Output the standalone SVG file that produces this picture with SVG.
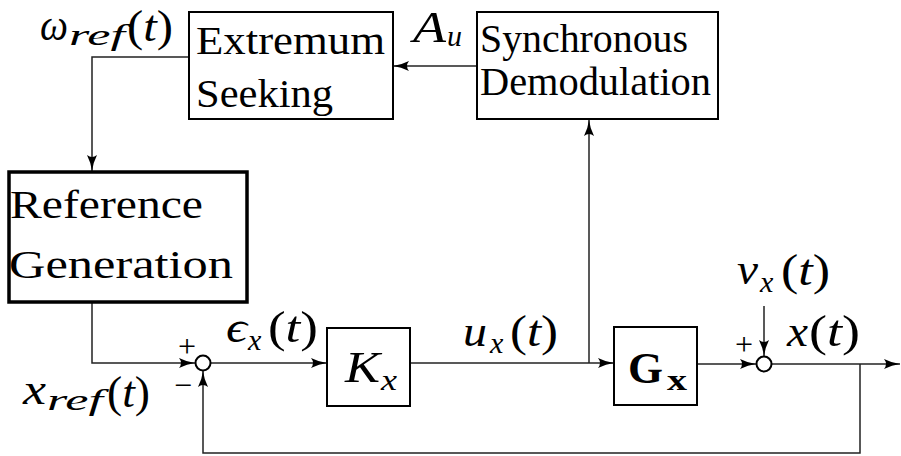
<svg xmlns="http://www.w3.org/2000/svg" width="901" height="456" viewBox="0 0 901 456">
<style>
.box{fill:#fff;stroke:#000;stroke-width:2}
.thick{fill:#fff;stroke:#000;stroke-width:3.5}
.sum{fill:#fff;stroke:#000;stroke-width:2}
.wire{fill:none;stroke:#222;stroke-width:1.5}
.arr{marker-end:url(#ah)}
text{fill:#000;font-family:"Liberation Serif","Times New Roman","DejaVu Serif",serif}
.lbl{font-size:40px}
.mi{font-size:44px;font-style:italic}
.mu{font-size:44px}
.it{font-style:italic}
.sb{font-size:30px;font-style:italic}
.bf{font-size:44px;font-weight:bold}
.bsb{font-size:30px;font-weight:bold}
.sg{font-size:32px}
</style>
<defs>
<marker id="ah" viewBox="0 0 16 11" refX="16" refY="5.5" markerWidth="16" markerHeight="11" markerUnits="userSpaceOnUse" orient="auto">
<path d="M0,0.5 Q8,4.5 16,5.5 Q8,6.5 0,10.5 Q4,5.5 0,0.5 z" fill="#000"/>
</marker>
</defs>
<rect width="901" height="456" fill="#fff"/>
<g id="connectors">
<path class="wire arr" d="M477,66 L393,66"/>
<path class="wire arr" d="M189,57 L92,57 L92,171"/>
<path class="wire arr" d="M92,303 L92,363 L195,363"/>
<path class="wire arr" d="M211,363 L327,363"/>
<path class="wire arr" d="M410,363 L614,363"/>
<path class="wire arr" d="M589,363 L589,120"/>
<path class="wire arr" d="M697,364 L756,364"/>
<path class="wire arr" d="M764,306 L764,356"/>
<path class="wire arr" d="M772,364 L900,364"/>
<path class="wire arr" d="M860,364 L860,453 L203,453 L203,371"/>
</g>
<g id="extremum-seeking">
<rect class="box" x="189" y="12" width="204" height="107"/>
<text class="lbl" x="196" y="54" textLength="189" lengthAdjust="spacingAndGlyphs">Extremum</text>
<text class="lbl" x="196" y="107" textLength="137" lengthAdjust="spacingAndGlyphs">Seeking</text>
</g>
<g id="synchronous-demodulation">
<rect class="box" x="477" y="12" width="241" height="107"/>
<text class="lbl" x="480" y="52" textLength="208" lengthAdjust="spacingAndGlyphs">Synchronous</text>
<text class="lbl" x="480" y="95" textLength="231" lengthAdjust="spacingAndGlyphs">Demodulation</text>
</g>
<g id="reference-generation">
<rect class="thick" x="9" y="172" width="238" height="130"/>
<text class="lbl" x="10" y="218" textLength="193" lengthAdjust="spacingAndGlyphs">Reference</text>
<text class="lbl" x="9" y="278" textLength="224" lengthAdjust="spacingAndGlyphs">Generation</text>
</g>
<g id="sum1">
<circle class="sum" cx="203" cy="363" r="7.5"/>
<text class="sg" x="187" y="357" text-anchor="middle">+</text>
<text class="sg" x="183" y="396" text-anchor="middle">−</text>
</g>
<g id="kx">
<rect class="box" x="327" y="328" width="83" height="78"/>
<text class="mi" x="345" y="382" textLength="35" lengthAdjust="spacingAndGlyphs">K</text>
<text class="sb" x="381" y="390" textLength="16" lengthAdjust="spacingAndGlyphs">x</text>
</g>
<g id="gx">
<rect class="box" x="614" y="327" width="83" height="78"/>
<text class="bf" x="628" y="383" textLength="35" lengthAdjust="spacingAndGlyphs">G</text>
<text class="bsb" x="667" y="390" textLength="20" lengthAdjust="spacingAndGlyphs">x</text>
</g>
<g id="sum2">
<circle class="sum" cx="764" cy="364" r="7.5"/>
<text class="sg" x="744" y="355" text-anchor="middle">+</text>
</g>
<g id="labels">
<g id="lbl-wref">
<text class="mi" x="40" y="40" textLength="28" lengthAdjust="spacingAndGlyphs">ω</text>
<text class="sb" x="69" y="45" textLength="56" lengthAdjust="spacingAndGlyphs">ref</text>
<text class="mu" x="127" y="41" textLength="46" lengthAdjust="spacingAndGlyphs">(<tspan class="it">t</tspan>)</text>
</g>
<g id="lbl-au">
<text class="mi" x="413" y="42" textLength="33" lengthAdjust="spacingAndGlyphs">A</text>
<text class="sb" x="447" y="46">u</text>
</g>
<g id="lbl-eps">
<text class="mi" x="226" y="342" textLength="21" lengthAdjust="spacingAndGlyphs">ϵ</text>
<text class="sb" x="248" y="350">x</text>
<text class="mu" x="268" y="342" textLength="50" lengthAdjust="spacingAndGlyphs">(<tspan class="it">t</tspan>)</text>
</g>
<g id="lbl-xref">
<text class="mi" x="23" y="404" textLength="23" lengthAdjust="spacingAndGlyphs">x</text>
<text class="sb" x="47" y="410" textLength="56" lengthAdjust="spacingAndGlyphs">ref</text>
<text class="mu" x="107" y="407" textLength="43" lengthAdjust="spacingAndGlyphs">(<tspan class="it">t</tspan>)</text>
</g>
<g id="lbl-ux">
<text class="mi" x="463" y="346" textLength="24" lengthAdjust="spacingAndGlyphs">u</text>
<text class="sb" x="490" y="353">x</text>
<text class="mu" x="510" y="346" textLength="48" lengthAdjust="spacingAndGlyphs">(<tspan class="it">t</tspan>)</text>
</g>
<g id="lbl-vx">
<text class="mi" x="737" y="284" textLength="21" lengthAdjust="spacingAndGlyphs">v</text>
<text class="sb" x="760" y="292">x</text>
<text class="mu" x="781" y="285" textLength="49" lengthAdjust="spacingAndGlyphs">(<tspan class="it">t</tspan>)</text>
</g>
<g id="lbl-x">
<text class="mi" x="787" y="346" textLength="21" lengthAdjust="spacingAndGlyphs">x</text>
<text class="mu" x="809" y="346" textLength="51" lengthAdjust="spacingAndGlyphs">(<tspan class="it">t</tspan>)</text>
</g>
</g>
</svg>
